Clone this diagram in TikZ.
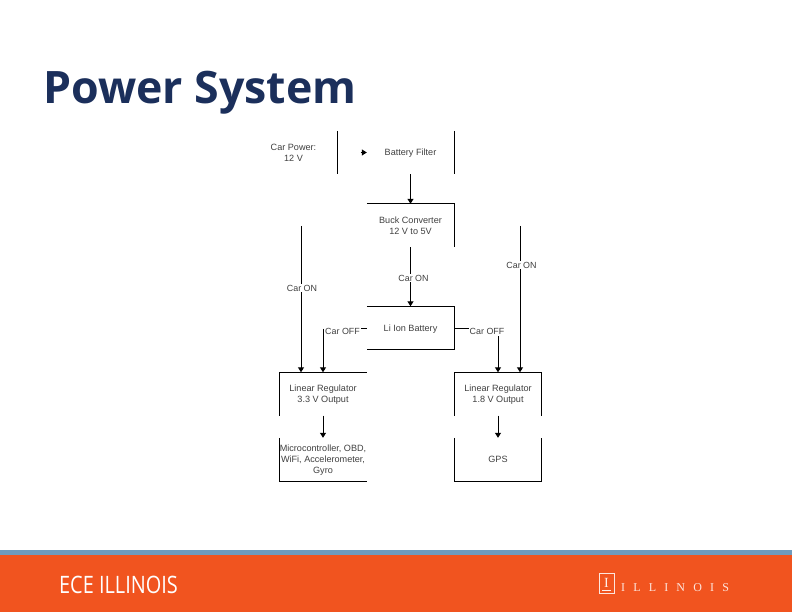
\documentclass[tikz,border=0pt]{standalone}
\usepackage{fontspec}
\setmainfont{Liberation Sans}
\newfontfamily\titlefont{Open Sans}
\newfontfamily\serifl{Liberation Serif}
\usetikzlibrary{arrows.meta}
\definecolor{titleblue}{HTML}{1B2F5B}
\definecolor{bandblue}{HTML}{6F9BBD}
\definecolor{bandorange}{HTML}{F1541F}
\definecolor{lbl}{HTML}{404040}
\newcommand{\lowtext}[1]{\raisebox{-1.2pt}[\height][\depth]{\begin{tabular}{@{}c@{}}#1\end{tabular}}}
\tikzset{
  x=1pt,y=-1pt,
  blockbox/.style={minimum width=87pt,minimum height=43pt,inner sep=0pt,align=center,font=\fontsize{9.1}{11}\selectfont,text=lbl},
  edge/.style={line width=1pt,black},
  flow/.style={edge,-{Triangle[length=5pt,width=6pt]}},
  lab/.style={fill=white,inner sep=1pt,font=\fontsize{8.9}{10.4}\selectfont,text=lbl},
}
\begin{document}
\begin{tikzpicture}
\useasboundingbox (0,0) rectangle (792,612);
\fill[white] (0,0) rectangle (792,612);
\node[anchor=base west,inner sep=0pt,text=titleblue,font=\titlefont\bfseries\fontsize{44.7}{50}\selectfont] (title) at (43,104) {Power System};
% blocks
\node[blockbox] (power) at (293.5,152.5) {Car Power:\\12 V};
\node[blockbox] (filter) at (410.5,152.5) {\lowtext{Battery Filter}};
\node[blockbox] (buck) at (410.5,225.5) {\lowtext{Buck Converter\\12 V to 5V}};
\node[blockbox] (batt) at (410.5,328) {\lowtext{Li Ion Battery}};
\node[blockbox] (regl) at (323,394) {\lowtext{Linear Regulator\\3.3 V Output}};
\node[blockbox] (regr) at (498,394) {\lowtext{Linear Regulator\\1.8 V Output}};
\node[blockbox] (mcu) at (323,459.5) {\lowtext{Microcontroller, OBD,\\WiFi, Accelerometer,\\Gyro}};
\node[blockbox] (gps) at (498,459.5) {GPS};
% visible block sides
\draw[edge] (power.north east) -- (power.south east);
\draw[edge] (filter.north east) -- (filter.south east);
\draw[edge] (buck.north west) -- (buck.north east) -- (buck.south east);
\draw[edge] (batt.north west) -- (batt.north east) -- (batt.south east) -- (batt.south west);
\draw[edge] (regl.south west) -- (regl.north west) -- (regl.north east);
\draw[edge] (regr.south west) -- (regr.north west) -- (regr.north east) -- (regr.south east);
\draw[edge] (mcu.north west) -- (mcu.south west) -- (mcu.south east);
\draw[edge] (gps.north west) -- (gps.south west) -- (gps.south east) -- (gps.north east);
% connectors
\coordinate (pw) at (360.5,152.5);
\draw[flow] (pw) -- (filter.west);
\draw[flow] (filter.south) -- (buck.north);
\draw[flow] (buck.south) -- (batt.north);
\node[lab] (on0) at (413.5,278) {Car ON};
\coordinate (ll) at (301,226);
\coordinate (rr) at (520,226);
\draw[flow] (ll) -- (ll |- regl.north);
\draw[flow] (rr) -- (rr |- regr.north);
\node[lab] (on1) at (302,288) {Car ON};
\node[lab] (on2) at (521.5,265) {Car ON};
\node[lab] (offl) at (342.5,331) {Car OFF};
\node[lab] (offr) at (487,331) {Car OFF};
\draw[edge] (batt.west) -- (offl.east |- batt.west);
\draw[edge] (batt.east) -- (offr.west |- batt.east);
\draw[flow] (regl.north |- offl.north) ++(0,2) -- (regl.north);
\draw[flow] (regr.north |- offr.south) ++(0,1) -- (regr.north);
\draw[flow] (regl.south) -- (mcu.north);
\draw[flow] (regr.south) -- (gps.north);
% footer
\fill[bandorange] (0,555) rectangle (792,612);
\fill[bandblue] (0,550) rectangle (792,554.5);
\node[anchor=base west,inner sep=0pt,text=white,font=\titlefont\fontsize{24}{28}\selectfont,xscale=0.83] (ece) at (59,593) {ECE ILLINOIS};
\node[draw=white!85!bandorange,line width=0.7pt,minimum width=15pt,minimum height=20pt,inner sep=0pt,text=white!90!bandorange,font=\serifl\fontsize{14}{14}\selectfont] (logo) at (606.5,583) {I};
\fill[white!90!bandorange] ([xshift=3pt,yshift=2pt]logo.south west) rectangle ([xshift=-3pt,yshift=3.2pt]logo.south east);
\node[anchor=west,inner sep=0pt,text=white!85!bandorange,font=\serifl\fontsize{12}{13}\selectfont] (ill) at (621,588) {\addfontfeature{LetterSpace=68}ILLINOIS};
\end{tikzpicture}
\end{document}
